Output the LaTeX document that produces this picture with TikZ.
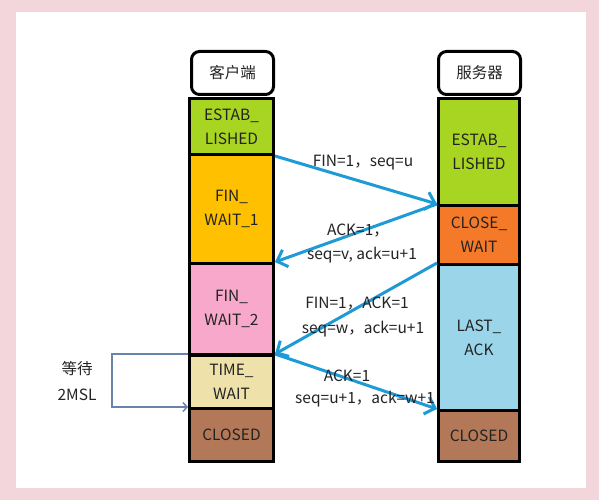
\documentclass[tikz,border=0pt]{standalone}
\usepackage{fontspec}
\setmainfont{Noto Sans CJK SC}
\usetikzlibrary{arrows.meta}
\definecolor{bgpink}{RGB}{242,214,220}
\definecolor{estab}{RGB}{168,212,34}
\definecolor{finone}{RGB}{255,192,0}
\definecolor{fintwo}{RGB}{248,168,202}
\definecolor{timew}{RGB}{238,226,170}
\definecolor{closedc}{RGB}{178,120,88}
\definecolor{closew}{RGB}{244,122,42}
\definecolor{lastack}{RGB}{155,213,234}
\definecolor{msgblue}{RGB}{30,155,215}
\definecolor{waitline}{RGB}{104,132,170}
\definecolor{txt}{RGB}{35,35,35}
\begin{document}
\begin{tikzpicture}[x=1pt,y=-1pt,
  box/.style={draw=black,line width=3pt,anchor=north west,inner sep=0pt,align=center,
    text=txt,font=\fontsize{15.5}{24}\selectfont},
  head/.style={box,fill=white,rounded corners=8pt},
  msg/.style={draw=msgblue,line width=3pt,-{Straight Barb[length=9pt,width=18pt]}},
  lbl/.style={text=txt,font=\fontsize{15.5}{18}\selectfont,inner sep=0pt},
  waitarrow/.style={draw=waitline,line width=1.5pt,-{Straight Barb[length=4pt,width=9pt]}}]
\useasboundingbox (0,0) rectangle (599,500);
\fill[bgpink] (0,0) rectangle (599,500);
\fill[white] (16,12) rectangle (586,488);
% client
\node[head,minimum width=82,minimum height=43] (ch) at (190,50) {客户端};
\node[box,fill=estab,minimum width=84,minimum height=56] (c1) at (188,97) {ESTAB\_\\LISHED};
\node[box,fill=finone,minimum width=84,minimum height=109] (c2) at (188,153) {FIN\_\\WAIT\_1};
\node[box,fill=fintwo,minimum width=84,minimum height=91] (c3) at (188,262) {FIN\_\\WAIT\_2};
\node[box,fill=timew,minimum width=84,minimum height=53] (c4) at (188,354) {TIME\_\\WAIT};
\node[box,fill=closedc,minimum width=84,minimum height=53] (c5) at (188,407) {CLOSED};
% server
\node[head,minimum width=82,minimum height=43] (sh) at (437,50) {服务器};
\node[box,fill=estab,minimum width=81,minimum height=107] (s1) at (437,97) {ESTAB\_\\LISHED};
\node[box,fill=closew,minimum width=81,minimum height=59] (s2) at (437,204) {CLOSE\_\\WAIT};
\node[box,fill=lastack,minimum width=81,minimum height=146] (s3) at (437,263) {LAST\_\\ACK};
\node[box,fill=closedc,minimum width=81,minimum height=51] (s4) at (437,409) {CLOSED};
% messages
\draw[msg] (c1.south east) -- (s2.north west);
\draw[msg] (s2.north west) -- (c3.north east);
\draw[msg] (s3.north west) -- (c4.north east);
\draw[msg] (c4.north east) -- (s4.north west);
% labels
\node[lbl] (l1) at (363,163) {FIN=1，seq=u};
\node[lbl] (l2) at (358,231) {ACK=1，};
\node[lbl] (l3) at (362,255) {seq=v, ack=u+1};
\node[lbl] (l4) at (357,304) {FIN=1，ACK=1};
\node[lbl] (l5) at (363,329) {seq=w，ack=u+1};
\node[lbl] (l6) at (347,376) {ACK=1};
\node[lbl] (l7) at (365,399) {seq=u+1，ack=w+1};
% wait 2MSL
\coordinate (wl) at (112,354);
\draw[waitarrow] (c4.north west) -- (wl) |- (c5.north west);
\node[lbl] (w1) at (77,369) {等待};
\node[lbl] (w2) at (77,395) {2MSL};
\end{tikzpicture}
\end{document}
